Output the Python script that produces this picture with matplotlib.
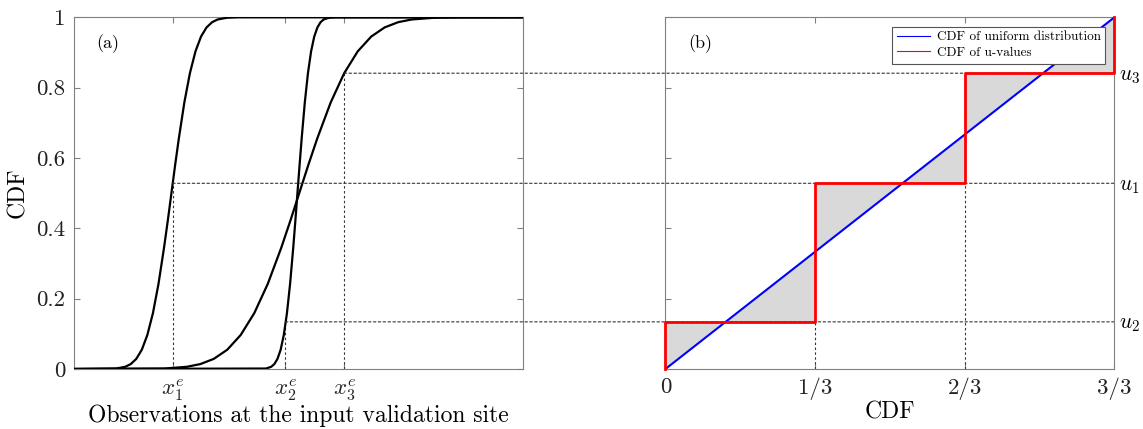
import matplotlib
matplotlib.use("Agg")
import matplotlib.pyplot as plt
from matplotlib.patches import ConnectionPatch
from matplotlib.lines import Line2D
import numpy as np

plt.rcParams['font.family'] = 'serif'
plt.rcParams['font.serif'] = ['cmr10', 'DejaVu Serif']
plt.rcParams['mathtext.fontset'] = 'cm'
plt.rcParams['axes.unicode_minus'] = False
plt.rcParams['axes.formatter.use_mathtext'] = True

# ---- data ----
# three forecast CDFs (observation value, CDF)
cdf1_x = [0.0, 0.935, 1.141, 1.265, 1.388, 1.512, 1.635, 1.759, 1.883, 2.006, 2.089, 2.171,
          2.253, 2.336, 2.459, 2.583, 2.707, 2.830, 2.954, 3.077, 3.201, 3.407, 3.654, 10.0]
cdf2_x = [0.0, 4.276, 4.393, 4.463, 4.533, 4.604, 4.674, 4.744, 4.814, 4.884, 4.931, 4.978,
          5.025, 5.072, 5.142, 5.212, 5.282, 5.352, 5.423, 5.493, 5.563, 5.680, 5.820, 10.0]
cdf3_x = [0.0, 2.012, 2.513, 2.814, 3.114, 3.415, 3.715, 4.016, 4.317, 4.617, 4.818, 5.018,
          5.218, 5.419, 5.719, 6.020, 6.321, 6.621, 6.922, 7.222, 7.523, 8.024, 8.625, 10.0]
# CDF levels at those points (same levels for all three curves)
cdf_levels = [0.0, 0.0013, 0.0062, 0.0139, 0.0287, 0.0548, 0.0968, 0.1587, 0.2420, 0.3446, 0.4207, 0.5,
              0.5793, 0.6554, 0.7580, 0.8413, 0.9032, 0.9452, 0.9713, 0.9861, 0.9938, 0.9987, 0.9998, 1.0]

# observations and the u-values they give
obs = [2.20, 4.71, 6.02]
u_vals = [0.528, 0.134, 0.841]
obs_labels = [r'$x_1^e$', r'$x_2^e$', r'$x_3^e$']
u_labels = [r'$u_1$', r'$u_2$', r'$u_3$']

cdf_ticks = [0, 1/3, 2/3, 1]
cdf_ticklabels = ['0', '1/3', '2/3', '3/3']
y_ticks = [0, 0.2, 0.4, 0.6, 0.8, 1]
y_ticklabels = ['0', '0.2', '0.4', '0.6', '0.8', '1']

spine_col = '#808080'
dash = (0, (2.2, 2.2))
tick_fs = 16.5
label_fs = 17

fig = plt.figure(figsize=(11.43, 4.29), dpi=100)
ax1 = fig.add_axes([0.0647, 0.1399, 0.3928, 0.8198])
ax2 = fig.add_axes([0.5822, 0.1399, 0.3928, 0.8198])

## (a) forecast CDFs
for xs in (cdf1_x, cdf2_x, cdf3_x):
    ax1.plot(xs, cdf_levels, color='black', lw=1.6, zorder=3)

for xo, u in zip(obs, u_vals):
    ax1.plot([xo, xo], [0, u], color='#333333', lw=0.8, ls=dash, zorder=2)

ax1.set_xlim(0, 10)
ax1.set_ylim(0, 1)
ax1.set_xticks(obs)
ax1.set_xticklabels(obs_labels, fontsize=tick_fs)
ax1.set_yticks(y_ticks)
ax1.set_yticklabels(y_ticklabels, fontsize=tick_fs)
ax1.tick_params(direction='in', length=4, color=spine_col, top=True, right=True, pad=6)
ax1.set_ylabel('CDF', fontsize=label_fs, labelpad=5)
ax1.set_xlabel('Observations at the input validation site', fontsize=label_fs, labelpad=1)
ax1.text(0.05, 0.925, '(a)', transform=ax1.transAxes, fontsize=13, va='center')

## (b) CDF of u-values against uniform
u_sorted = np.sort(u_vals)
n = len(u_sorted)
k = np.arange(n + 1) / n
step_x = [0.0]
step_y = [0.0]
for i, u in enumerate(u_sorted):
    step_x += [k[i], k[i + 1]]
    step_y += [u, u]
step_x += [1.0]
step_y += [1.0]

poly_x = step_x + [0.0]
poly_y = step_y + [0.0]
ax2.fill(poly_x, poly_y, color='#d9d9d9', lw=0, zorder=1)
ax2.plot([0, 1], [0, 1], color='blue', lw=1.5, zorder=4)
ax2.plot(step_x, step_y, color='red', lw=2, zorder=5, clip_on=False)

for i, u in enumerate(u_sorted[:-1]):
    ax2.plot([k[i + 1], k[i + 1]], [0, u], color='#333333', lw=0.8, ls=dash, zorder=2)

for xo, u in zip(obs, u_vals):
    con = ConnectionPatch(xyA=(xo, u), coordsA=ax1.transData,
                          xyB=(1, u), coordsB=ax2.transData,
                          color='#333333', lw=0.8, ls=dash, zorder=2)
    ax2.add_artist(con)

ax2.set_xlim(0, 1)
ax2.set_ylim(0, 1)
ax2.set_xticks(cdf_ticks)
ax2.set_xticklabels(cdf_ticklabels, fontsize=tick_fs)
ax2.set_yticks(y_ticks)
ax2.set_yticklabels([])
ax2.tick_params(direction='in', length=4, color=spine_col, top=True, pad=6)
ax2.set_xlabel('CDF', fontsize=label_fs, labelpad=1)
ax2.text(0.05, 0.925, '(b)', transform=ax2.transAxes, fontsize=13, va='center')

ax2r = ax2.twinx()
ax2r.set_ylim(0, 1)
ax2r.set_yticks(u_vals)
ax2r.set_yticklabels(u_labels, fontsize=15.5)
ax2r.tick_params(direction='in', length=0, pad=3)
for s in ax2r.spines.values():
    s.set_visible(False)

handles = [Line2D([], [], color='blue', lw=0.8), Line2D([], [], color='red', lw=0.8)]
leg = ax2.legend(handles, ['CDF of uniform distribution', 'CDF of u-values'],
                 loc='upper right', fontsize=9.5, fancybox=False, framealpha=1,
                 edgecolor='#555555', borderaxespad=0.7, handlelength=2.5,
                 borderpad=0.35, labelspacing=0.25, handletextpad=0.5)
leg.get_frame().set_linewidth(0.8)
leg.set_zorder(10)

for ax in (ax1, ax2):
    for s in ax.spines.values():
        s.set_color(spine_col)
        s.set_linewidth(0.8)
    ax.tick_params(labelcolor='#222222')

fig.savefig('out.png', dpi=100)
